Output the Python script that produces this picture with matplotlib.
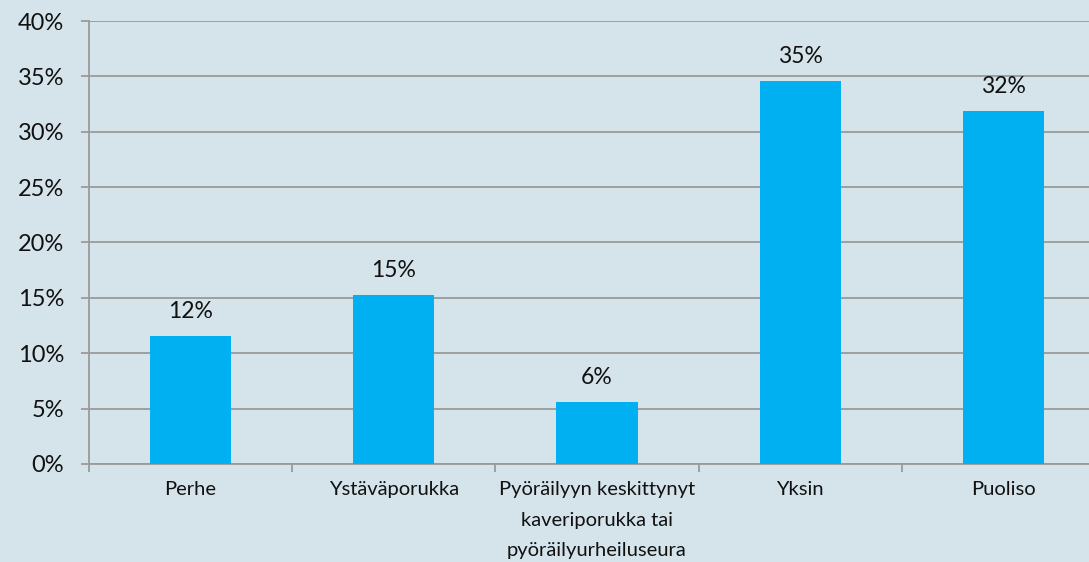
import matplotlib
matplotlib.use("Agg")
import matplotlib.pyplot as plt
import numpy as np

categories = ["Perhe", "Ystäväporukka", "Pyöräilyyn keskittynyt\nkaveriporukka tai\npyöräilyurheiluseura", "Yksin", "Puoliso"]
values = [11.6, 15.3, 5.6, 34.6, 31.9]
labels = ["12%", "15%", "6%", "35%", "32%"]
yticks = [0, 5, 10, 15, 20, 25, 30, 35, 40]

plt.rcParams['font.family'] = ['Lato', 'DejaVu Sans']
bg = '#D5E3EB'
fig = plt.figure(figsize=(10.89, 5.62), dpi=100, facecolor=bg)
W, H = 1089, 562
left, right, top, bottom = 89, 1105, 21, 464
ax = fig.add_axes([left / W, 1 - bottom / H, (right - left) / W, (bottom - top) / H])
ax.set_facecolor(bg)

x = np.arange(len(categories))
ax.bar(x, values, width=0.4, color='#00B0F0', zorder=3)
for xi, v, lab in zip(x, values, labels):
    ax.annotate(lab, (xi, v), xytext=(0, 10), textcoords='offset points',
                ha='center', va='bottom', fontsize=16.5, color='#111111')

ax.set_xlim(-0.5, len(categories) - 0.5)
ax.set_ylim(0, 40)
ax.set_yticks(yticks)
ax.set_yticklabels([f"{t}%" for t in yticks], fontsize=17, color='#111111')
ax.yaxis.grid(True, color='#9A9A9A', linewidth=1.3, zorder=0)
ax.set_axisbelow(True)
ax.tick_params(axis='y', length=6, color='#9A9A9A', width=1.3, pad=12)

ax.set_xticks(x)
ax.set_xticklabels(categories, fontsize=14.5, color='#111111', linespacing=1.95)
ax.tick_params(axis='x', length=0, pad=12.5)
ax.set_xticks(np.arange(-0.5, len(categories), 1.0), minor=True)
ax.tick_params(axis='x', which='minor', length=6, color='#9A9A9A', width=1.3)

for s in ['top', 'right']:
    ax.spines[s].set_visible(False)
for s in ['left', 'bottom']:
    ax.spines[s].set_color('#9A9A9A')
    ax.spines[s].set_linewidth(1.3)

fig.savefig('out.png', dpi=100, facecolor=bg)
